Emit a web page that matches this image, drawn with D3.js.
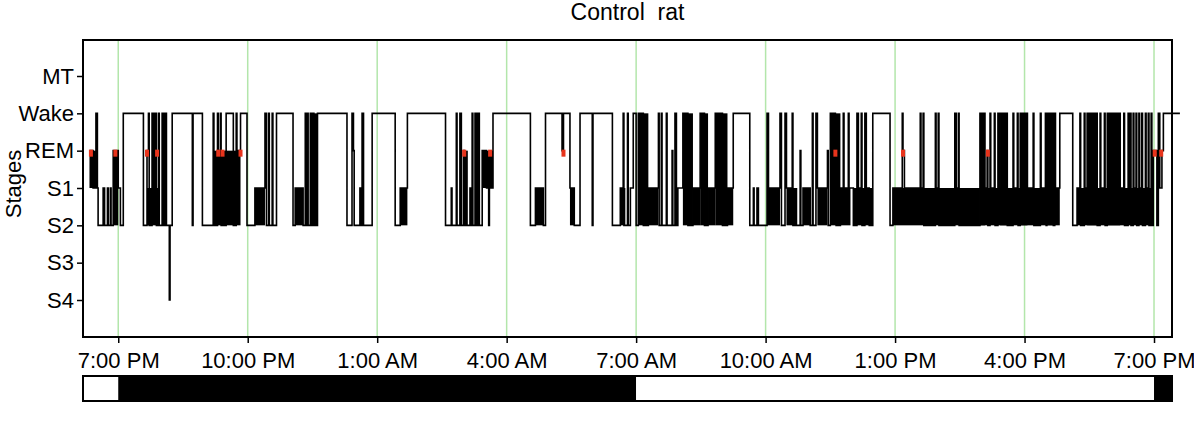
<!DOCTYPE html>
<html>
<head>
<meta charset="utf-8">
<script src="https://cdn.jsdelivr.net/npm/d3@7"></script>
<style>
  body { margin: 0; background: #fff; }
  svg { display: block; font-family: "Liberation Sans", Arial, sans-serif; }
</style>
</head>
<body>
<svg id="chart" width="1194" height="426"></svg>
<script>
// stage labels, top to bottom
const stageLevels = ["MT", "Wake", "REM", "S1", "S2", "S3", "S4"]

// minutes after 7:00 PM, stage entered at that minute
const hypnogram = [
  [-40,"REM"],[-35,"S1"],[-31,"Wake"],[-29,"S1"],[-28,"S2"],[-21,"S1"],[-19,"S2"],[-15,"S1"],[-14,"S2"],
  [-11,"S1"],[-10,"S2"],[-7,"REM"],[0,"S1"],[3,"S2"],[7,"Wake"],[35,"S2"],[40,"REM"],[42,"Wake"],[43,"S2"],
  [47,"Wake"],[49,"S1"],[51,"Wake"],[53,"S2"],[56,"Wake"],[57,"S2"],[61,"Wake"],[63,"S2"],[65,"Wake"],
  [67,"S2"],[71,"S4"],[72,"S2"],[75,"Wake"],[103,"S2"],[104,"Wake"],[117,"S2"],[132,"Wake"],[133,"S2"],
  [138,"Wake"],[139,"REM"],[142,"Wake"],[143,"S2"],[150,"Wake"],[160,"S2"],[164,"Wake"],[165,"REM"],
  [170,"Wake"],[179,"S2"],[190,"S1"],[204,"Wake"],[206,"S2"],[209,"Wake"],[210,"S2"],[214,"Wake"],
  [215,"S2"],[220,"Wake"],[243,"S2"],[246,"S1"],[257,"S2"],[260,"Wake"],[261,"S2"],[263,"Wake"],
  [264,"S2"],[267,"Wake"],[268,"S2"],[270,"Wake"],[272,"S2"],[277,"Wake"],[318,"S2"],[325,"Wake"],
  [327,"REM"],[328,"S2"],[336,"S1"],[338,"S2"],[339,"Wake"],[341,"S2"],[353,"Wake"],[385,"S2"],
  [392,"S1"],[402,"Wake"],[455,"S2"],[463,"S1"],[464,"S2"],[470,"Wake"],[471,"S2"],[475,"Wake"],
  [477,"S2"],[480,"REM"],[481,"S2"],[489,"S1"],[491,"S2"],[492,"Wake"],[493,"S2"],[496,"Wake"],
  [498,"S2"],[500,"Wake"],[502,"S2"],[506,"REM"],[512,"S1"],[515,"S2"],[516,"S1"],[521,"Wake"],
  [573,"S2"],[580,"S1"],[591,"S2"],[594,"Wake"],[617,"REM"],[619,"Wake"],[628,"S1"],[634,"S2"],
  [642,"Wake"],[659,"S2"],[660,"Wake"],[687,"S2"],[698,"S1"],[702,"Wake"],[703,"S2"],[708,"Wake"],
  [709,"S2"],[712,"S1"],[716,"Wake"],[720,"S2"],[723,"Wake"],[730,"S2"],[737,"S1"],[751,"Wake"],
  [752,"S2"],[755,"Wake"],[756,"S2"],[762,"Wake"],[763,"S2"],[770,"REM"],[771,"S2"],[774,"Wake"],
  [776,"S2"],[778,"S1"],[785,"Wake"],[792,"S2"],[799,"S1"],[809,"Wake"],[815,"S2"],[820,"S1"],
  [830,"Wake"],[840,"S2"],[847,"S1"],[855,"Wake"],[878,"S2"],[883,"S1"],[884,"S2"],[888,"S1"],
  [890,"S2"],[902,"Wake"],[904,"S1"],[920,"Wake"],[922,"S2"],[927,"Wake"],[929,"S1"],[937,"Wake"],
  [938,"S2"],[948,"REM"],[949,"S2"],[952,"S1"],[962,"S2"],[965,"Wake"],[966,"S2"],[970,"Wake"],
  [972,"S1"],[986,"REM"],[987,"S2"],[990,"Wake"],[997,"REM"],[998,"S2"],[1004,"S1"],[1008,"Wake"],
  [1009,"S1"],[1015,"Wake"],[1016,"S1"],[1022,"S2"],[1027,"Wake"],[1029,"S1"],[1033,"Wake"],
  [1034,"S2"],[1038,"Wake"],[1040,"S1"],[1044,"S2"],[1049,"Wake"],[1073,"S2"],[1077,"S1"],
  [1090,"Wake"],[1091,"REM"],[1093,"S1"],[1115,"Wake"],[1116,"S1"],[1119,"Wake"],[1120,"S2"],
  [1136,"Wake"],[1137,"S1"],[1140,"Wake"],[1141,"S2"],[1163,"Wake"],[1165,"S1"],[1168,"Wake"],
  [1169,"S2"],[1198,"Wake"],[1205,"S1"],[1208,"REM"],[1209,"S2"],[1212,"Wake"],[1213,"S1"],
  [1218,"Wake"],[1219,"S2"],[1223,"Wake"],[1224,"S1"],[1226,"Wake"],[1236,"S2"],[1244,"Wake"],
  [1245,"S1"],[1250,"Wake"],[1251,"S2"],[1254,"Wake"],[1264,"S1"],[1272,"Wake"],[1273,"S2"],
  [1282,"Wake"],[1283,"S1"],[1289,"Wake"],[1290,"S2"],[1291,"Wake"],[1300,"S2"],[1302,"Wake"],
  [1303,"S1"],[1309,"Wake"],[1327,"S2"],[1333,"S1"],[1337,"Wake"],[1338,"S2"],[1343,"Wake"],
  [1344,"S1"],[1347,"Wake"],[1361,"S2"],[1365,"Wake"],[1366,"S1"],[1371,"Wake"],[1372,"S2"],
  [1375,"Wake"],[1393,"S1"],[1398,"Wake"],[1399,"S2"],[1404,"Wake"],[1405,"S1"],[1407,"Wake"],
  [1408,"S2"],[1411,"Wake"],[1412,"S1"],[1415,"Wake"],[1416,"S2"],[1419,"Wake"],[1420,"S1"],
  [1423,"Wake"],[1424,"S2"],[1428,"Wake"],[1429,"S1"],[1432,"Wake"],[1433,"S2"],[1436,"Wake"],
  [1437,"S2"],[1439,"REM"],[1444,"S2"],[1446,"Wake"],[1448,"S1"],[1451,"REM"],[1453,"Wake"],
  [1476,"Wake"]
]

// periods where stages switch too fast to resolve: [start min, end min, upper stage, lower stage]
const fragmented = [
  [-40,-29,"REM","S1"],[-7,0,"REM","S2"],[40,58,"S1","S2"],[132,170,"REM","S2"],[190,204,"S1","S2"],
  [246,257,"S1","S2"],[270,277,"Wake","S2"],[392,402,"S1","S2"],[480,486,"REM","S2"],[507,521,"REM","S1"],
  [580,591,"S1","S2"],[628,634,"S1","S2"],[698,705,"S1","S2"],[723,737,"Wake","S2"],[737,751,"S1","S2"],
  [785,799,"Wake","S2"],[799,809,"S1","S2"],[809,820,"Wake","S2"],[820,830,"S1","S2"],[830,847,"Wake","S2"],
  [847,855,"S1","S2"],[902,920,"S1","S2"],[929,944,"S1","S2"],[952,962,"S1","S2"],[972,986,"S1","S2"],
  [990,1004,"Wake","S2"],[1004,1018,"S1","S2"],[1022,1049,"S1","S2"],[1077,1198,"S1","S2"],
  [1198,1205,"Wake","S2"],[1198,1309,"S1","S2"],[1226,1236,"Wake","S2"],[1254,1264,"Wake","S2"],
  [1291,1300,"Wake","S2"],[1333,1439,"S1","S2"],[1347,1361,"Wake","S2"],[1375,1393,"Wake","S2"]
]

// REM epochs flagged in red (minutes after 7:00 PM)
const remMarks = [-38, -4, 40, 54, 139, 145, 170, 481, 517, 619, 997, 1091, 1209, 1441, 1450]

// light / dark bar: [start min, end min, phase]
const lightDark = [[-49, 0, "light"], [0, 720, "dark"], [720, 1440, "light"], [1440, 1465, "dark"]]

// axis ticks every 3 hours
const tickHours = [0, 3, 6, 9, 12, 15, 18, 21, 24]

const startMin = -49, endMin = 1465
const base = new Date(2000, 0, 1, 19, 0)
const t = m => d3.timeMinute.offset(base, m)

const svg = d3.select("#chart")
const plotL = 83, plotR = 1172, plotT = 40, plotB = 337

const x = d3.scaleTime().domain([t(startMin), t(endMin)]).range([plotL, plotR])
const y = d3.scalePoint().domain(stageLevels).range([76, 300])

// title
svg.append("text")
    .attr("x", (plotL + plotR) / 2)
    .attr("y", 20)
    .attr("text-anchor", "middle")
    .style("font-size", "23px")
    .style("white-space", "pre")
    .text("Control  rat")

// green hour lines
svg.append("g")
    .selectAll("line")
    .data(tickHours)
    .enter()
    .append("line")
    .attr("x1", d => x(t(d * 60)))
    .attr("x2", d => x(t(d * 60)))
    .attr("y1", plotT)
    .attr("y2", plotB)
    .attr("stroke", "#b3e6ab")
    .attr("stroke-width", 1.5)

// fragmented blocks
svg.append("g")
    .selectAll("rect")
    .data(fragmented)
    .enter()
    .append("rect")
    .attr("x", d => x(t(d[0])))
    .attr("width", d => x(t(d[1])) - x(t(d[0])))
    .attr("y", d => y(d[2]))
    .attr("height", d => y(d[3]) - y(d[2]))
    .attr("fill", "#000")

// hypnogram trace
const line = d3.line()
    .x(d => x(t(d[0])))
    .y(d => y(d[1]))
    .curve(d3.curveStepAfter)

svg.append("path")
    .datum(hypnogram)
    .attr("d", line)
    .attr("fill", "none")
    .attr("stroke", "#000")
    .attr("stroke-width", 1.6)

// REM marks
svg.append("g")
    .selectAll("rect")
    .data(remMarks)
    .enter()
    .append("rect")
    .attr("x", d => x(t(d)) - 2)
    .attr("y", y("REM") - 1)
    .attr("width", 4)
    .attr("height", 7)
    .attr("fill", "#e8341c")

// frame
svg.append("rect")
    .attr("x", plotL)
    .attr("y", plotT)
    .attr("width", plotR - plotL)
    .attr("height", plotB - plotT)
    .attr("fill", "none")
    .attr("stroke", "#000")
    .attr("stroke-width", 2)

// y axis
const yAxis = svg.append("g")
    .attr("transform", "translate(" + plotL + ",0)")
    .call(d3.axisLeft(y).tickSize(6).tickPadding(3))
yAxis.select(".domain").remove()
yAxis.selectAll("line").attr("stroke-width", 1.5)
yAxis.selectAll("text").style("font-size", "22px").attr("fill", "#000")

svg.append("text")
    .attr("transform", "translate(21,184) rotate(-90)")
    .attr("text-anchor", "middle")
    .style("font-size", "22px")
    .text("Stages")

// x axis
const xAxis = svg.append("g")
    .attr("transform", "translate(0," + plotB + ")")
    .call(d3.axisBottom(x)
        .tickValues(tickHours.map(h => t(h * 60)))
        .tickFormat(d3.timeFormat("%-I:%M %p"))
        .tickSize(6)
        .tickPadding(9))
xAxis.select(".domain").remove()
xAxis.selectAll("line").attr("stroke-width", 1.5)
xAxis.selectAll("text").style("font-size", "22px").attr("fill", "#000")

// light / dark bar
svg.append("g")
    .selectAll("rect")
    .data(lightDark)
    .enter()
    .append("rect")
    .attr("x", d => x(t(d[0])))
    .attr("width", d => x(t(d[1])) - x(t(d[0])))
    .attr("y", 376)
    .attr("height", 25)
    .attr("fill", d => d[2] === "dark" ? "#000" : "#fff")

svg.append("rect")
    .attr("x", plotL)
    .attr("y", 376)
    .attr("width", plotR - plotL)
    .attr("height", 25)
    .attr("fill", "none")
    .attr("stroke", "#000")
    .attr("stroke-width", 2)
</script>
</body>
</html>
